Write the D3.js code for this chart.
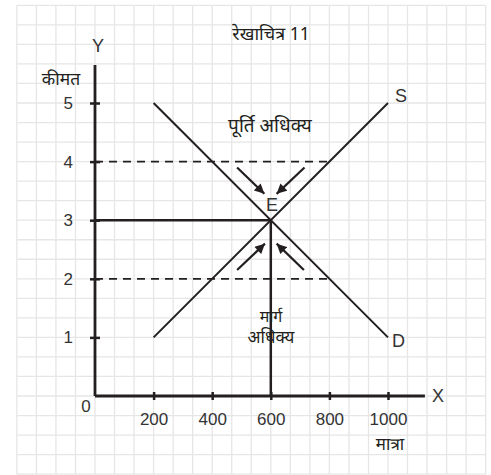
<!DOCTYPE html>
<html>
<head>
<meta charset="utf-8">
<script src="https://cdn.jsdelivr.net/npm/d3@7"></script>
<style>
  body { margin: 0; background: #fff; }
  svg text { font-family: "Liberation Sans", Arial, sans-serif; }
  .hi { font-family: "Noto Sans Devanagari", "Lohit Devanagari", "Noto Sans", sans-serif !important; fill: #231f20; }
</style>
</head>
<body>
<svg id="chart" width="491" height="475"></svg>
<script>
// price / quantity values
const xTicks = [200, 400, 600, 800, 1000]
const yTicks = [1, 2, 3, 4, 5]
const supply = [[200, 1], [1000, 5]]
const demand = [[200, 5], [1000, 1]]
const equilibrium = [600, 3]
const dashedPrices = [4, 2]     // surplus / shortage price levels
const dashedEnd = 800
const arrows = [
  [[485, 3.9], [578, 3.45]],
  [[715, 3.9], [620, 3.45]],
  [[485, 2.15], [580, 2.6]],
  [[713, 2.15], [620, 2.6]]
]
const title = 'रेखाचित्र 11'
const yName = 'कीमत'
const xName = 'मात्रा'
const surplusLabel = 'पूर्ति अधिक्य'
const shortageLabel = ['मार्ग', 'अधिक्य']

const ink = '#231f20'
const svg = d3.select('#chart')

const x = d3.scaleLinear().domain([0, 1000]).range([95, 388])
const y = d3.scaleLinear().domain([0, 5]).range([396, 103])

/* graph paper: one square = 1/3 of a price unit */
const gGrid = svg.append('g').attr('stroke', '#e6e6e6').attr('stroke-width', 1.3)
const gx = d3.range(-4, 21).map(k => k * 1000 / 15)
const gy = d3.range(-4, 21).map(k => k / 3)
gGrid.selectAll('.v').data(gx).enter().append('line')
    .attr('x1', d => x(d)).attr('x2', d => x(d))
    .attr('y1', y(gy[gy.length - 1])).attr('y2', y(gy[0]))
gGrid.selectAll('.h').data(gy).enter().append('line')
    .attr('y1', d => y(d)).attr('y2', d => y(d))
    .attr('x1', x(gx[0])).attr('x2', x(gx[gx.length - 1]))

// dashed price lines
svg.append('g').selectAll('line').data(dashedPrices).enter().append('line')
    .attr('x1', x(0)).attr('x2', x(dashedEnd))
    .attr('y1', d => y(d)).attr('y2', d => y(d))
    .attr('stroke', ink).attr('stroke-width', 1.8).attr('stroke-dasharray', '8,6')

// equilibrium guides
svg.append('line')
    .attr('x1', x(0)).attr('x2', x(equilibrium[0]))
    .attr('y1', y(equilibrium[1])).attr('y2', y(equilibrium[1]))
    .attr('stroke', ink).attr('stroke-width', 2.5)
svg.append('line')
    .attr('x1', x(equilibrium[0])).attr('x2', x(equilibrium[0]))
    .attr('y1', y(equilibrium[1])).attr('y2', y(0))
    .attr('stroke', ink).attr('stroke-width', 2.5)

// supply and demand
const line = d3.line().x(d => x(d[0])).y(d => y(d[1]))
svg.selectAll('.curve').data([supply, demand]).enter().append('path')
    .attr('d', line).attr('fill', 'none').attr('stroke', ink).attr('stroke-width', 2)

// arrows toward E
svg.append('defs').append('marker')
    .attr('id', 'head').attr('viewBox', '0 0 10 10')
    .attr('refX', 10).attr('refY', 5)
    .attr('markerWidth', 5).attr('markerHeight', 4.5)
    .attr('markerUnits', 'strokeWidth').attr('orient', 'auto')
  .append('path').attr('d', 'M0,0L10,5L0,10z').attr('fill', ink)
svg.append('g').selectAll('path').data(arrows).enter().append('path')
    .attr('d', line).attr('stroke', ink).attr('stroke-width', 2.2)
    .attr('marker-end', 'url(#head)')

// axes
const yAxis = d3.axisLeft(y).tickValues(yTicks).tickSize(5).tickPadding(17).tickFormat(d3.format('d'))
const xAxis = d3.axisBottom(x).tickValues(xTicks).tickSize(4).tickPadding(13).tickFormat(d3.format('d'))

const gY = svg.append('g').attr('transform', `translate(${x(0)},0)`).call(yAxis)
const gX = svg.append('g').attr('transform', `translate(0,${y(0)})`).call(xAxis)
gY.select('.domain').remove()
gX.select('.domain').remove()
gY.selectAll('.tick line').attr('x1', 5).attr('stroke', ink).attr('stroke-width', 2.5)
gX.selectAll('.tick line').attr('y1', -4).attr('stroke', ink).attr('stroke-width', 2.5)
gY.selectAll('text').attr('font-size', 17).attr('fill', '#333')
gX.selectAll('text').attr('font-size', 17).attr('fill', '#333')

svg.append('line')
    .attr('x1', x(0)).attr('x2', x(0)).attr('y1', y(5.65)).attr('y2', y(0))
    .attr('stroke', ink).attr('stroke-width', 2.8)
svg.append('line')
    .attr('x1', x(0)).attr('x2', x(1126)).attr('y1', y(0)).attr('y2', y(0))
    .attr('stroke', ink).attr('stroke-width', 2.8)

// letters
const letters = [
  {t: 'Y', x: 98, y: 52, a: 'middle', s: 18},
  {t: 'X', x: 432, y: 402, a: 'start', s: 18},
  {t: '0', x: 86, y: 412, a: 'middle', s: 17},
  {t: 'S', x: 395, y: 102, a: 'start', s: 18},
  {t: 'D', x: 392, y: 347, a: 'start', s: 18},
  {t: 'E', x: 272, y: 211, a: 'middle', s: 18}
]
svg.append('g').selectAll('text').data(letters).enter().append('text')
    .attr('x', d => d.x).attr('y', d => d.y)
    .attr('text-anchor', d => d.a).attr('font-size', d => d.s)
    .attr('fill', '#333').text(d => d.t)

// hindi labels
const hindi = [
  {t: title, x: 271, y: 40, s: 18},
  {t: yName, x: 61, y: 85, s: 17.5},
  {t: xName, x: 390, y: 450, s: 17},
  {t: surplusLabel, x: 270, y: 132, s: 19},
  {t: shortageLabel[0], x: 271, y: 322, s: 16},
  {t: shortageLabel[1], x: 271, y: 343, s: 17}
]
svg.append('g').selectAll('text').data(hindi).enter().append('text')
    .attr('class', 'hi')
    .attr('x', d => d.x).attr('y', d => d.y)
    .attr('text-anchor', 'middle').attr('font-size', d => d.s)
    .text(d => d.t)
</script>
</body>
</html>
